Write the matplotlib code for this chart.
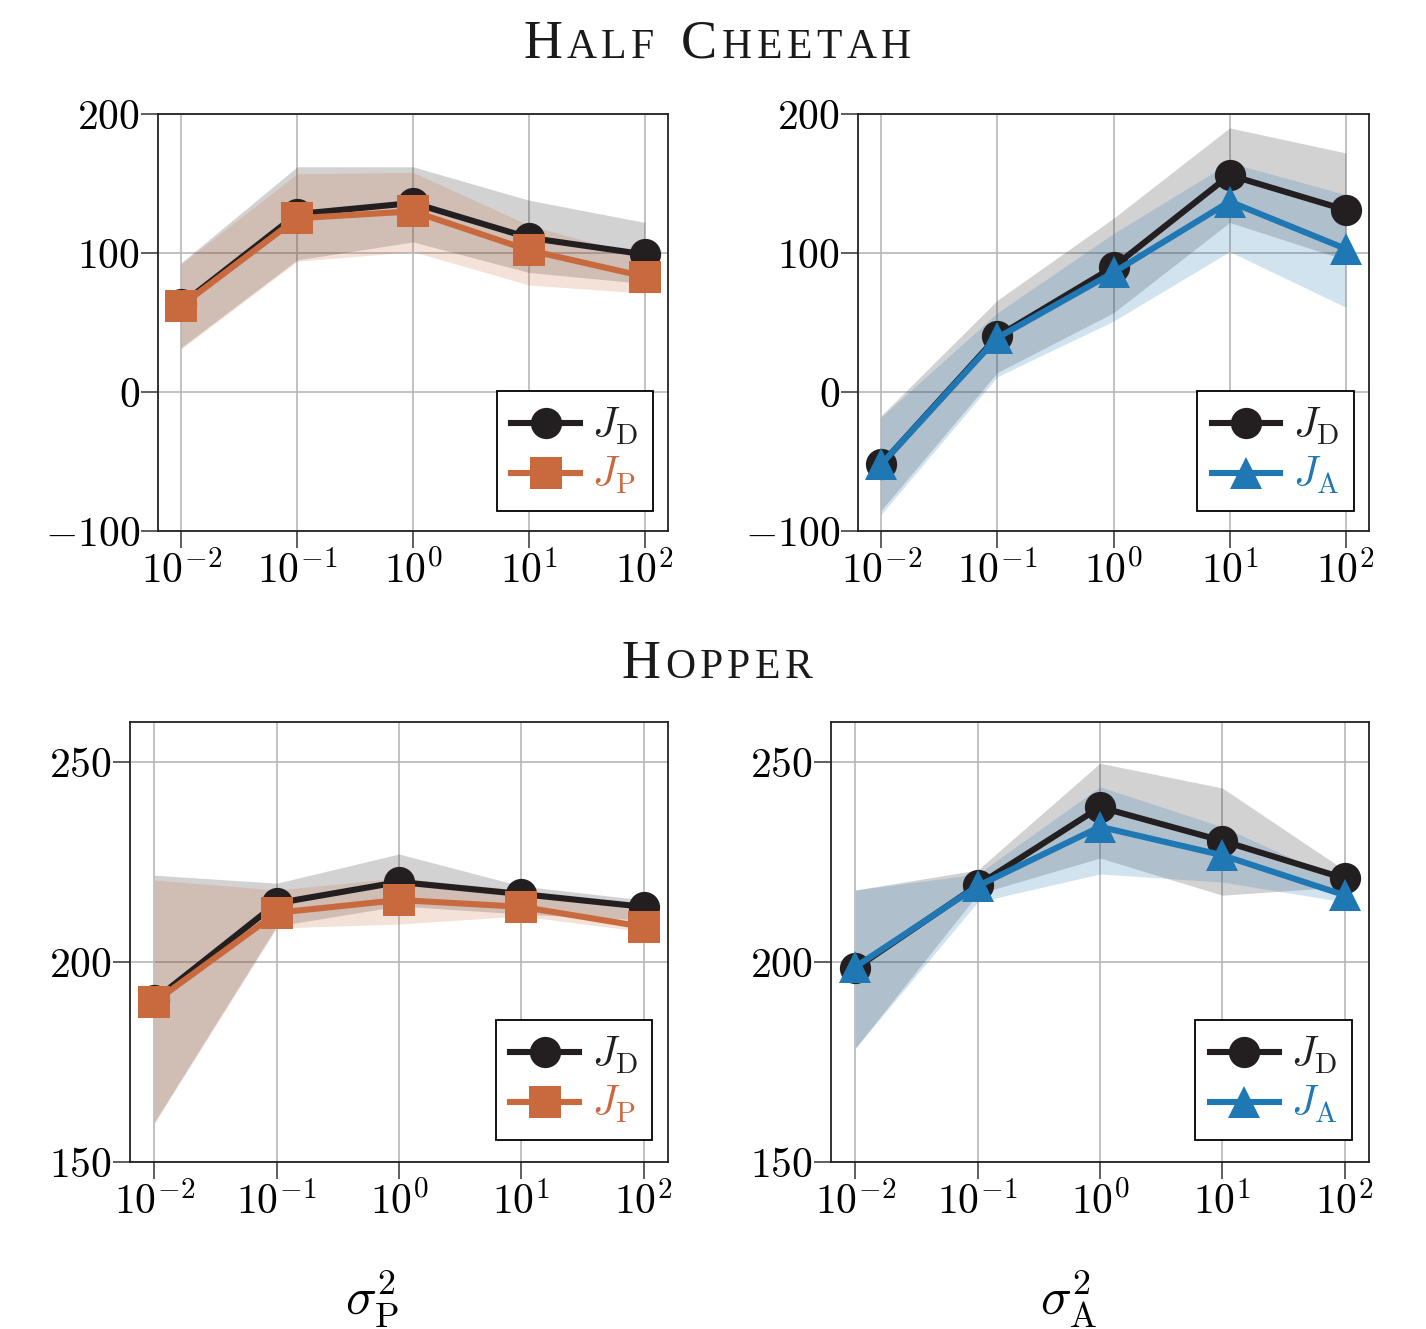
import numpy as np
import matplotlib
matplotlib.use('Agg')
import matplotlib.pyplot as plt
from matplotlib.ticker import FixedLocator, NullLocator, FuncFormatter

# noise variance values on the x axis
sigma2 = [1e-2, 1e-1, 1e0, 1e1, 1e2]

# Half Cheetah, sigma_P sweep
hc_p_jd = [63, 128, 136, 111, 99]
hc_p_jd_lo = [32, 95, 108, 86, 78]
hc_p_jd_hi = [93, 162, 162, 138, 122]
hc_p_jp = [62, 125, 130, 102, 83]
hc_p_jp_lo = [31, 94, 101, 77, 71]
hc_p_jp_hi = [92, 157, 158, 120, 97]

# Half Cheetah, sigma_A sweep
hc_a_jd = [-52, 40, 90, 156, 131]
hc_a_jd_lo = [-85, 14, 57, 122, 95]
hc_a_jd_hi = [-17, 66, 125, 190, 172]
hc_a_ja = [-52, 39, 86, 137, 103]
hc_a_ja_lo = [-88, 11, 51, 101, 61]
hc_a_ja_hi = [-18, 57, 114, 165, 142]

# Hopper, sigma_P sweep
hp_p_jd = [190.5, 214.7, 220, 217, 213.8]
hp_p_jd_lo = [160, 209, 214, 212, 210.5]
hp_p_jd_hi = [221.7, 219.7, 227, 219, 215.5]
hp_p_jp = [190, 212.3, 215.5, 213.8, 208.8]
hp_p_jp_lo = [159.7, 208.5, 209.5, 211.5, 207.6]
hp_p_jp_hi = [220.5, 218, 221, 218, 212.6]

# Hopper, sigma_A sweep
hp_a_jd = [198.4, 219.2, 238.7, 230.3, 220.9]
hp_a_jd_lo = [178.5, 217, 226, 216.7, 218.8]
hp_a_jd_hi = [218, 223, 249.7, 243.5, 223]
hp_a_ja = [198.8, 219, 233.8, 226.7, 216.7]
hp_a_ja_lo = [178.5, 215, 222, 220, 215]
hp_a_ja_hi = [218, 222, 243.8, 233.8, 220]

BLACK = '#231f20'
ORANGE = '#c86a3e'
BLUE = '#1f77b4'

plt.rcParams['mathtext.fontset'] = 'cm'
plt.rcParams['font.family'] = ['Liberation Serif', 'DejaVu Serif']

W, H = 1426, 1329
fig = plt.figure(figsize=(W / 100, H / 100), dpi=100)


def px_axes(left, top, right, bottom):
    return fig.add_axes([left / W, 1 - bottom / H, (right - left) / W, (bottom - top) / H])


def panel(ax, jd, jd_lo, jd_hi, other, o_lo, o_hi, col, marker, ms, lab,
          yticks, ylim, anchor):
    ax.fill_between(sigma2, jd_lo, jd_hi, color=BLACK, alpha=0.2, lw=0, zorder=1)
    ax.fill_between(sigma2, o_lo, o_hi, color=col, alpha=0.2, lw=0, zorder=1)
    ax.plot(sigma2, jd, '-o', color=BLACK, lw=4.4, ms=22.5, mew=0,
            label=r'$J_{\mathrm{D}}$', zorder=3)
    ax.plot(sigma2, other, '-' + marker, color=col, lw=4.4, ms=ms, mew=0,
            label=lab, zorder=4)
    ax.set_xscale('log')
    ax.set_xlim(10 ** -2.2, 10 ** 2.2)
    ax.set_ylim(*ylim)
    ax.xaxis.set_major_locator(FixedLocator(sigma2))
    ax.xaxis.set_minor_locator(NullLocator())
    ax.xaxis.set_major_formatter(FuncFormatter(lambda v, p: r'$10^{%d}$' % round(np.log10(v))))
    ax.yaxis.set_major_locator(FixedLocator(yticks))
    ax.yaxis.set_major_formatter(FuncFormatter(lambda v, p: r'$%d$' % v))
    ax.tick_params(direction='out', length=12, width=1.1, color='#333333',
                   labelsize=30, pad=3)
    ax.tick_params(axis='y', pad=1)
    ax.grid(True, color='#b8b8b8', lw=1.2)
    ax.set_axisbelow(True)
    for s in ax.spines.values():
        s.set_linewidth(1.3)
        s.set_color('#222222')
    leg = ax.legend(loc='lower right', bbox_to_anchor=anchor, borderaxespad=0,
                    fancybox=False, edgecolor='black', framealpha=1, fontsize=30,
                    handlelength=1.65, handletextpad=0.3, borderpad=0.35,
                    labelspacing=0.2, numpoints=1)
    leg.get_frame().set_linewidth(1.3)
    for t, c in zip(leg.get_texts(), [BLACK, col]):
        t.set_color(c)


ax1 = px_axes(158, 114, 668, 531)
panel(ax1, hc_p_jd, hc_p_jd_lo, hc_p_jd_hi, hc_p_jp, hc_p_jp_lo, hc_p_jp_hi,
      ORANGE, 's', 22.5, r'$J_{\mathrm{P}}$', [-100, 0, 100, 200], (-100, 200),
      (0.97, 0.048))

ax2 = px_axes(858, 114, 1369, 531)
panel(ax2, hc_a_jd, hc_a_jd_lo, hc_a_jd_hi, hc_a_ja, hc_a_ja_lo, hc_a_ja_hi,
      BLUE, '^', 23.5, r'$J_{\mathrm{A}}$', [-100, 0, 100, 200], (-100, 200),
      (0.97, 0.048))

ax3 = px_axes(130, 722, 668, 1162)
panel(ax3, hp_p_jd, hp_p_jd_lo, hp_p_jd_hi, hp_p_jp, hp_p_jp_lo, hp_p_jp_hi,
      ORANGE, 's', 22.5, r'$J_{\mathrm{P}}$', [150, 200, 250], (150, 260),
      (0.97, 0.05))

ax4 = px_axes(831, 722, 1369, 1162)
panel(ax4, hp_a_jd, hp_a_jd_lo, hp_a_jd_hi, hp_a_ja, hp_a_ja_lo, hp_a_ja_hi,
      BLUE, '^', 23.5, r'$J_{\mathrm{A}}$', [150, 200, 250], (150, 260),
      (0.968, 0.05))


def smallcaps(text, xc, ybase, big=39, small=30, gap=22, kern=4.5):
    # fake small caps: first letter big, the rest small upper case, letter spaced
    renderer = fig.canvas.get_renderer()
    arts, offs, x = [], [], 0.0
    for i, word in enumerate(text.split()):
        if i:
            x += gap
        for j, ch in enumerate(word):
            t = fig.text(0, 1 - ybase / H, ch.upper(), fontsize=big if j == 0 else small,
                         va='baseline', ha='left', color='#1a1a1a')
            arts.append(t)
            offs.append(x)
            x += t.get_window_extent(renderer).width + kern
    x -= kern
    for t, o in zip(arts, offs):
        t.set_x((xc - x / 2 + o) / W)


smallcaps('Half Cheetah', 717, 58)
smallcaps('Hopper', 717, 678)

fig.text(372 / W, 1 - 1315 / H, r'$\sigma^2_{\mathrm{P}}$', fontsize=37,
         ha='center', va='baseline')
fig.text(1069 / W, 1 - 1315 / H, r'$\sigma^2_{\mathrm{A}}$', fontsize=37,
         ha='center', va='baseline')

fig.savefig('out.png', dpi=100)
